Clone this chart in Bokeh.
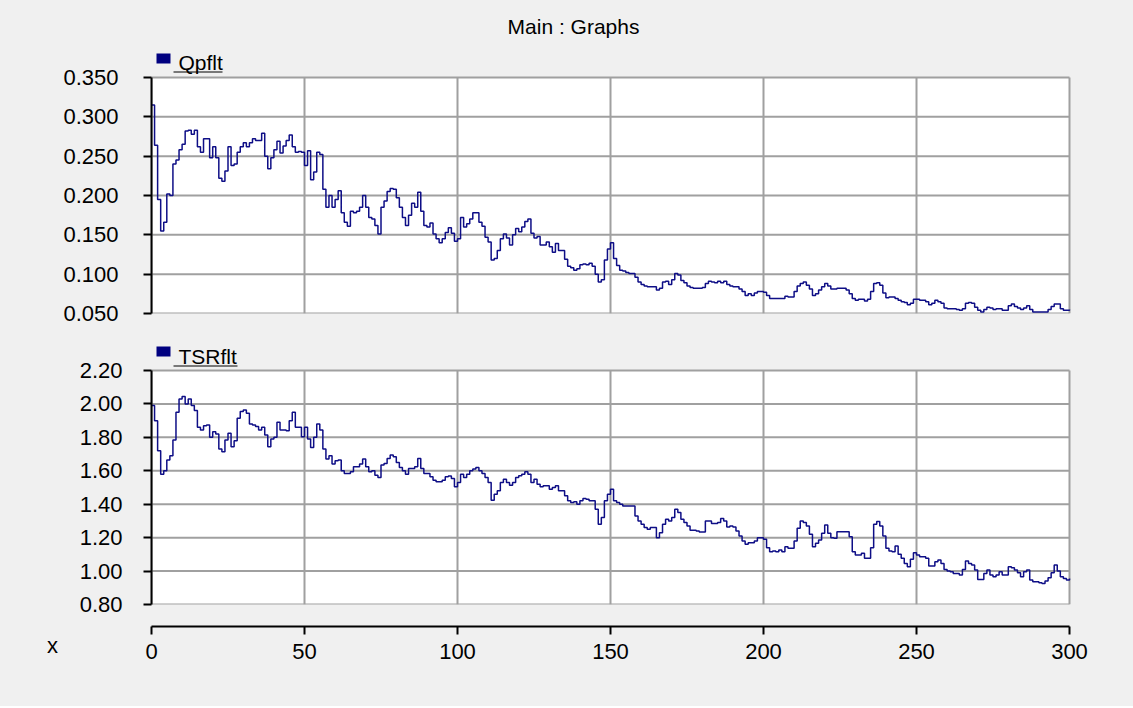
from bokeh.plotting import figure
from bokeh.layouts import column, row
from bokeh.models import Range1d, FixedTicker, PrintfTickFormatter, Label, BoxAnnotation
from bokeh.embed import file_html
from bokeh.resources import INLINE

# ---------------- data ----------------
time = list(range(301))

qpflt = [
    0.315, 0.264, 0.195, 0.155, 0.166, 0.202, 0.200, 0.240, 0.245, 0.258,
    0.265, 0.282, 0.283, 0.278, 0.283, 0.262, 0.255, 0.272, 0.272, 0.248,
    0.262, 0.248, 0.222, 0.218, 0.231, 0.262, 0.238, 0.240, 0.255, 0.262,
    0.267, 0.262, 0.267, 0.272, 0.270, 0.270, 0.279, 0.250, 0.234, 0.248,
    0.258, 0.269, 0.254, 0.263, 0.270, 0.277, 0.262, 0.255, 0.256, 0.255,
    0.238, 0.257, 0.220, 0.230, 0.255, 0.252, 0.208, 0.185, 0.200, 0.185,
    0.195, 0.206, 0.178, 0.166, 0.161, 0.180, 0.178, 0.180, 0.185, 0.200,
    0.185, 0.172, 0.170, 0.162, 0.151, 0.185, 0.193, 0.205, 0.209, 0.208,
    0.197, 0.185, 0.172, 0.162, 0.175, 0.190, 0.185, 0.204, 0.180, 0.162,
    0.160, 0.165, 0.151, 0.145, 0.140, 0.145, 0.153, 0.159, 0.152, 0.142,
    0.145, 0.172, 0.160, 0.164, 0.170, 0.178, 0.178, 0.166, 0.161, 0.147,
    0.141, 0.118, 0.120, 0.130, 0.145, 0.151, 0.146, 0.137, 0.150, 0.158,
    0.154, 0.160, 0.167, 0.170, 0.152, 0.146, 0.148, 0.137, 0.137, 0.141,
    0.135, 0.128, 0.139, 0.130, 0.130, 0.119, 0.110, 0.108, 0.105, 0.107,
    0.112, 0.113, 0.112, 0.114, 0.110, 0.100, 0.090, 0.093, 0.118, 0.132,
    0.140, 0.120, 0.111, 0.105, 0.104, 0.102, 0.101, 0.101, 0.096, 0.090,
    0.087, 0.085, 0.084, 0.084, 0.084, 0.080, 0.082, 0.090, 0.091, 0.087,
    0.093, 0.101, 0.099, 0.092, 0.089, 0.085, 0.083, 0.082, 0.082, 0.082,
    0.083, 0.088, 0.091, 0.090, 0.089, 0.091, 0.089, 0.091, 0.087, 0.085,
    0.084, 0.084, 0.081, 0.078, 0.073, 0.075, 0.073, 0.076, 0.078, 0.078,
    0.077, 0.073, 0.069, 0.069, 0.069, 0.069, 0.069, 0.072, 0.071, 0.071,
    0.078, 0.085, 0.088, 0.090, 0.086, 0.081, 0.073, 0.075, 0.080, 0.084,
    0.088, 0.085, 0.081, 0.081, 0.082, 0.082, 0.082, 0.080, 0.075, 0.069,
    0.067, 0.068, 0.068, 0.066, 0.068, 0.078, 0.088, 0.089, 0.086, 0.076,
    0.070, 0.071, 0.071, 0.069, 0.067, 0.065, 0.064, 0.061, 0.063, 0.068,
    0.068, 0.067, 0.067, 0.065, 0.061, 0.063, 0.067, 0.065, 0.063, 0.057,
    0.056, 0.056, 0.056, 0.055, 0.054, 0.056, 0.063, 0.064, 0.063, 0.058,
    0.054, 0.052, 0.055, 0.058, 0.057, 0.055, 0.056, 0.056, 0.054, 0.054,
    0.060, 0.062, 0.059, 0.057, 0.055, 0.057, 0.060, 0.055, 0.052, 0.052,
    0.052, 0.052, 0.052, 0.055, 0.059, 0.062, 0.062, 0.056, 0.054, 0.054,
    0.055,
]

tsrflt = [
    1.990, 1.900, 1.720, 1.580, 1.600, 1.664, 1.690, 1.784, 1.950, 2.030,
    2.045, 2.000, 2.030, 1.990, 1.960, 1.860, 1.844, 1.870, 1.874, 1.800,
    1.834, 1.820, 1.730, 1.714, 1.784, 1.824, 1.744, 1.780, 1.914, 1.955,
    1.964, 1.944, 1.880, 1.874, 1.865, 1.844, 1.860, 1.814, 1.744, 1.790,
    1.800, 1.890, 1.844, 1.844, 1.840, 1.900, 1.950, 1.860, 1.860, 1.804,
    1.860, 1.790, 1.740, 1.800, 1.880, 1.844, 1.730, 1.670, 1.690, 1.640,
    1.660, 1.664, 1.600, 1.584, 1.584, 1.594, 1.624, 1.624, 1.640, 1.670,
    1.624, 1.594, 1.600, 1.574, 1.560, 1.634, 1.644, 1.674, 1.694, 1.684,
    1.650, 1.620, 1.600, 1.580, 1.614, 1.614, 1.624, 1.674, 1.614, 1.584,
    1.584, 1.564, 1.544, 1.534, 1.534, 1.544, 1.564, 1.569, 1.554, 1.504,
    1.530, 1.580, 1.560, 1.580, 1.600, 1.610, 1.620, 1.600, 1.584, 1.560,
    1.530, 1.424, 1.460, 1.480, 1.530, 1.550, 1.530, 1.514, 1.530, 1.560,
    1.570, 1.580, 1.594, 1.580, 1.530, 1.550, 1.520, 1.504, 1.510, 1.510,
    1.490, 1.500, 1.510, 1.480, 1.480, 1.450, 1.420, 1.410, 1.414, 1.400,
    1.420, 1.434, 1.430, 1.420, 1.420, 1.370, 1.280, 1.320, 1.420, 1.460,
    1.490, 1.420, 1.410, 1.400, 1.390, 1.390, 1.390, 1.390, 1.330, 1.300,
    1.280, 1.260, 1.250, 1.260, 1.260, 1.200, 1.230, 1.280, 1.310, 1.300,
    1.320, 1.370, 1.350, 1.310, 1.290, 1.270, 1.244, 1.244, 1.240, 1.234,
    1.234, 1.300, 1.300, 1.284, 1.284, 1.290, 1.314, 1.300, 1.264, 1.270,
    1.264, 1.240, 1.210, 1.180, 1.160, 1.170, 1.170, 1.180, 1.200, 1.200,
    1.190, 1.140, 1.116, 1.120, 1.116, 1.126, 1.116, 1.146, 1.136, 1.136,
    1.180, 1.256, 1.300, 1.290, 1.270, 1.220, 1.146, 1.166, 1.186, 1.226,
    1.276, 1.226, 1.200, 1.196, 1.236, 1.236, 1.236, 1.236, 1.206, 1.116,
    1.096, 1.096, 1.106, 1.076, 1.076, 1.140, 1.280, 1.296, 1.270, 1.210,
    1.136, 1.120, 1.116, 1.150, 1.100, 1.076, 1.046, 1.026, 1.070, 1.110,
    1.096, 1.086, 1.086, 1.076, 1.030, 1.030, 1.056, 1.066, 1.046, 1.010,
    1.000, 0.996, 0.986, 0.986, 0.976, 1.010, 1.060, 1.046, 1.036, 1.006,
    0.950, 0.950, 0.986, 1.006, 0.976, 0.966, 0.976, 0.996, 0.976, 0.976,
    1.026, 1.020, 1.006, 0.990, 0.966, 0.996, 1.006, 0.946, 0.936, 0.936,
    0.930, 0.926, 0.940, 0.960, 0.990, 1.036, 1.000, 0.966, 0.956, 0.946,
    0.956,
]

x_ticks = [0, 50, 100, 150, 200, 250, 300]
q_ticks = [0.05, 0.10, 0.15, 0.20, 0.25, 0.30, 0.35]
t_ticks = [0.80, 1.00, 1.20, 1.40, 1.60, 1.80, 2.00, 2.20]
title_text = "Main : Graphs"
x_label = "x"

# ---------------- styling / layout ----------------
BG = "#f0f0f0"
GRID = "#a0a0a0"
LINE = "#0e0e86"
NAVY = "#000080"
FONT = "Liberation Sans"
LEFT = 151          # frame left edge on the page
PLOT_W = 918        # pixels from x=0 to x=300
FW = 920            # frame width (2px spare for the right border)
RIGHT = 1133 - LEFT - FW
X_MAX = 300 * FW / PLOT_W


def make_panel(series, name, yticks, fmt, fh, plot_h, bottom, standoff,
               sq_top, text_base, ul_right, title=None):
    y0, y1 = yticks[0], yticks[-1]
    ymax = y0 + (y1 - y0) * fh / plot_h
    p = figure(frame_width=FW, frame_height=fh,
               min_border_left=LEFT, min_border_right=RIGHT,
               min_border_top=0, min_border_bottom=bottom,
               x_range=Range1d(0, X_MAX), y_range=Range1d(y0, ymax),
               output_backend="svg", toolbar_location=None,
               background_fill_color=BG, border_fill_color=BG,
               outline_line_color=None)
    p.xaxis.visible = False
    p.xgrid.visible = False
    p.ygrid.visible = False

    # white plotting area and grid
    p.quad(left=[0], right=[300], bottom=[y0], top=[y1],
           fill_color="white", line_color=None, level="image")
    p.segment(x0=[0] * len(yticks), x1=[300] * len(yticks), y0=yticks, y1=yticks,
              line_color=GRID, line_width=2, level="underlay")
    p.segment(x0=x_ticks, x1=x_ticks, y0=[y0] * len(x_ticks), y1=[y1] * len(x_ticks),
              line_color=GRID, line_width=2, level="underlay")

    ax = p.yaxis[0]
    ax.bounds = (y0, y1)
    ax.ticker = FixedTicker(ticks=yticks)
    ax.formatter = PrintfTickFormatter(format=fmt)
    ax.axis_line_color = "black"
    ax.axis_line_width = 2
    ax.major_tick_line_color = "black"
    ax.major_tick_line_width = 2
    ax.major_tick_in = 0
    ax.major_tick_out = 8
    ax.minor_tick_line_color = None
    ax.major_label_standoff = standoff
    ax.major_label_text_font = FONT
    ax.major_label_text_font_size = "22px"
    ax.major_label_text_color = "black"

    p.step(time, series, mode="after", line_color=LINE, line_width=1.5)

    # legend-like header (screen units: from frame left / frame bottom)
    p.add_layout(BoxAnnotation(left=5, right=19, top=sq_top, bottom=sq_top - 10,
                               left_units="screen", right_units="screen",
                               top_units="screen", bottom_units="screen",
                               fill_color=NAVY, fill_alpha=1.0, line_color=None))
    p.add_layout(Label(x=27, y=text_base + 8, x_units="screen", y_units="screen",
                       text=name, text_font=FONT, text_font_size="21px",
                       text_color="black", text_align="left",
                       text_baseline="middle"))
    p.add_layout(BoxAnnotation(left=22, right=ul_right, top=text_base - 1, bottom=text_base - 2,
                               left_units="screen", right_units="screen",
                               top_units="screen", bottom_units="screen",
                               fill_color="black", fill_alpha=1.0, line_color=None))
    if title:
        p.add_layout(Label(x=422, y=fh - 26, x_units="screen", y_units="screen",
                           text=title, text_font=FONT, text_font_size="21px",
                           text_color="black", text_align="center",
                           text_baseline="middle"))
    return p


# top panel: page y 0..330, frame 0..313, plot area 77..313
p1 = make_panel(qpflt, "Qpflt", q_ticks, "%.3f", 313, 236, 17, 25,
                sq_top=260, text_base=243, ul_right=71, title=title_text)
# bottom panel: page y 330..620, frame 330..604, plot area 370..604
p2 = make_panel(tsrflt, "TSRflt", t_ticks, "%.2f", 274, 234, 16, 21,
                sq_top=258, text_base=240, ul_right=86)

# x-axis strip: page y 620..706
px = figure(frame_width=LEFT - 20, frame_height=86,
            min_border_left=0, min_border_right=0, min_border_top=0, min_border_bottom=0,
            x_range=Range1d(0, 1), y_range=Range1d(0, 1),
            output_backend="svg", toolbar_location=None,
            background_fill_color=BG, border_fill_color=BG, outline_line_color=None)
px.axis.visible = False
px.grid.visible = False
px.add_layout(Label(x=52, y=66, x_units="screen", y_units="screen",
                    text=x_label, text_font=FONT, text_font_size="22px",
                    text_color="black", text_align="center", text_baseline="middle"))

p3 = figure(frame_width=FW, frame_height=1,
            min_border_left=20, min_border_right=RIGHT,
            min_border_top=5, min_border_bottom=80,
            x_range=Range1d(0, X_MAX), y_range=Range1d(0, 1),
            output_backend="svg", toolbar_location=None,
            background_fill_color=BG, border_fill_color=BG,
            outline_line_color=None)
p3.yaxis.visible = False
p3.xgrid.visible = False
p3.ygrid.visible = False
xa = p3.xaxis[0]
xa.bounds = (0, 300)
xa.ticker = FixedTicker(ticks=x_ticks)
xa.axis_line_color = "black"
xa.axis_line_width = 2
xa.major_tick_line_color = "black"
xa.major_tick_line_width = 2
xa.major_tick_in = 0
xa.major_tick_out = 8
xa.minor_tick_line_color = None
xa.major_label_standoff = 9
xa.major_label_text_font = FONT
xa.major_label_text_font_size = "22px"
xa.major_label_text_color = "black"

layout = column(p1, p2, row(px, p3, spacing=0), spacing=0,
                styles={"background-color": BG})

open("out.html", "w").write(file_html(layout, INLINE))
